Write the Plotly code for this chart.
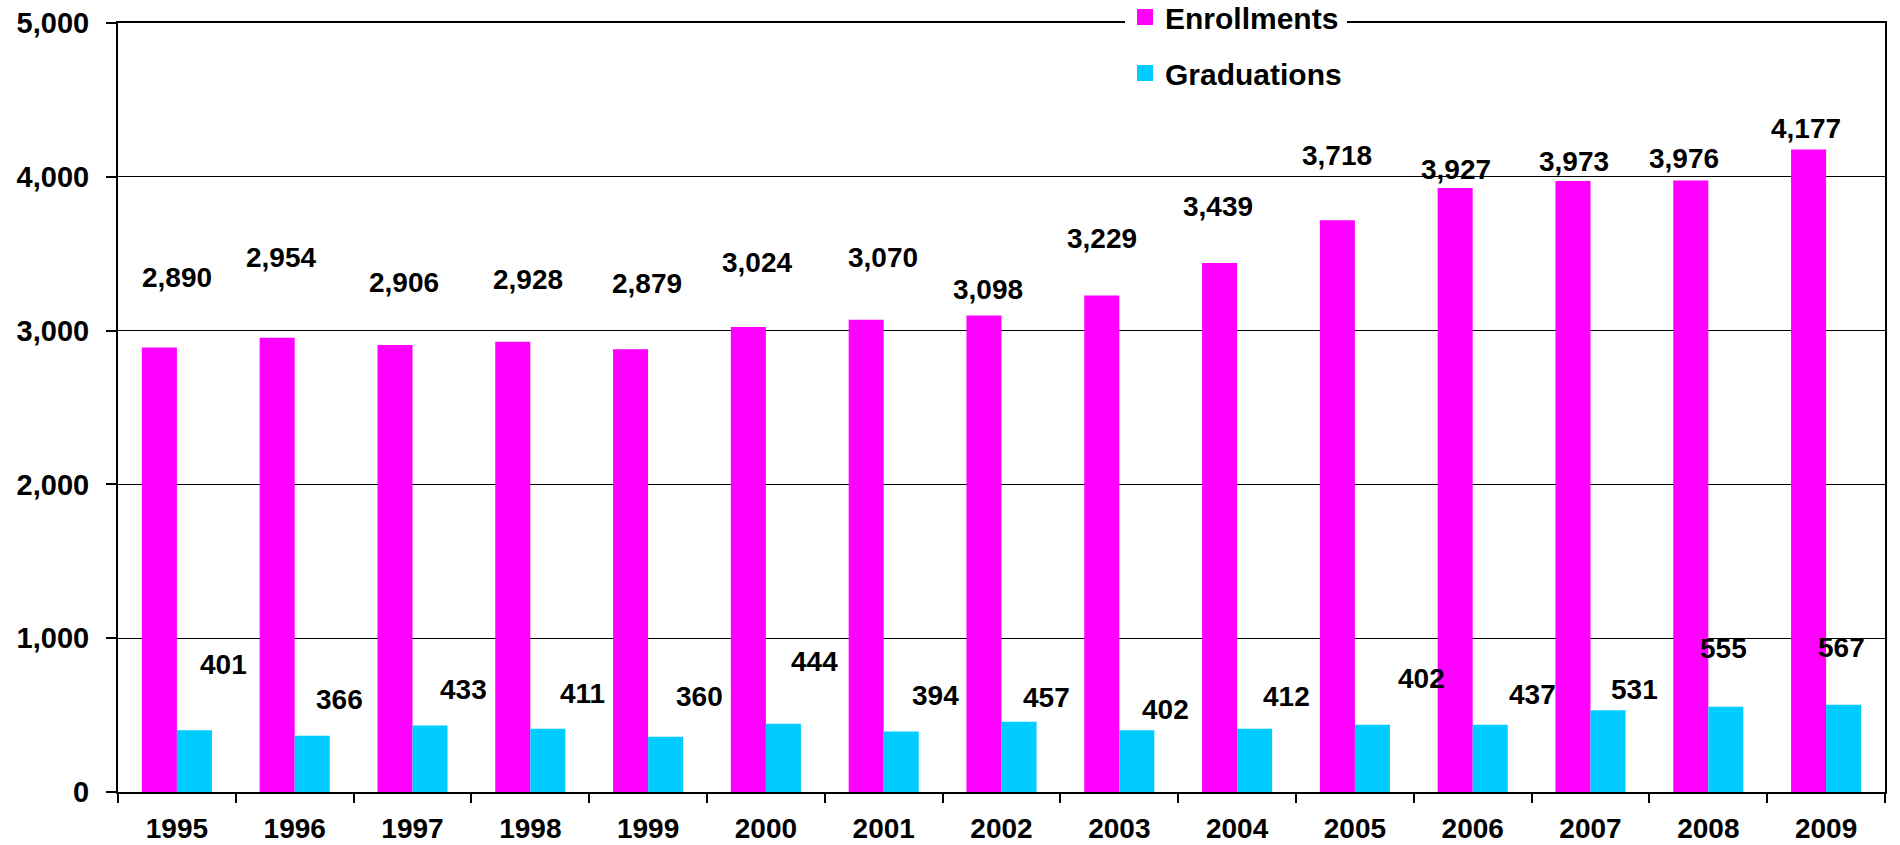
import plotly.graph_objects as go

# ---------------- data ----------------
years = ["1995", "1996", "1997", "1998", "1999", "2000", "2001", "2002",
         "2003", "2004", "2005", "2006", "2007", "2008", "2009"]
enrollments = [2890, 2954, 2906, 2928, 2879, 3024, 3070, 3098,
               3229, 3439, 3718, 3927, 3973, 3976, 4177]
graduations = [401, 366, 433, 411, 360, 444, 394, 457,
               402, 412, 437, 437, 531, 555, 567]
# data-label texts as printed on the chart
enroll_label_values = [2890, 2954, 2906, 2928, 2879, 3024, 3070, 3098,
                       3229, 3439, 3718, 3927, 3973, 3976, 4177]
grad_label_values = [401, 366, 433, 411, 360, 444, 394, 457,
                     402, 412, 402, 437, 531, 555, 567]
y_ticks = [0, 1000, 2000, 3000, 4000, 5000]

# ---------------- label placement (layout only) ----------------
enroll_label_y = [3346, 3476, 3314, 3333, 3306, 3444, 3477, 3265,
                  3602, 3807, 4139, 4046, 4101, 4122, 4312]
enroll_label_dx = [0, -14, -9, -2, -1, -9, -1, -14,
                   -17, -19, -18, -17, -17, -24, -20]
grad_label_y = [828, 601, 666, 642, 620, 847, 629, 613,
                537, 624, 738, 634, 665, 930, 941]
grad_label_dx = [47, 45, 51, 52, 51, 49, 52, 45,
                 46, 49, 67, 60, 44, 15, 15]

MAGENTA = "#FF00FF"
CYAN = "#00CCFF"
FONT = "Liberation Sans, Arial, sans-serif"

fig = go.Figure()
fig.add_trace(go.Bar(x=years, y=enrollments, name="Enrollments",
                     marker=dict(color=MAGENTA, line=dict(width=0)),
                     showlegend=False))
fig.add_trace(go.Bar(x=years, y=graduations, name="Graduations",
                     marker=dict(color=CYAN, line=dict(width=0)),
                     showlegend=False))
# legend entries (square swatches)
fig.add_trace(go.Scatter(x=[years[0]], y=[None], mode="markers", name="Enrollments",
                         legendgroup="a", hoverinfo="skip",
                         marker=dict(symbol="square", size=20, color=MAGENTA)))
fig.add_trace(go.Scatter(x=[years[0]], y=[None], mode="markers", name="Graduations",
                         legendgroup="b", hoverinfo="skip",
                         marker=dict(symbol="square", size=20, color=CYAN)))

annotations = []
for i, yr in enumerate(years):
    annotations.append(dict(x=i, y=enroll_label_y[i], xref="x", yref="y",
                            text=f"{enroll_label_values[i]:,}", showarrow=False,
                            xshift=enroll_label_dx[i],
                            font=dict(family=FONT, size=28, color="black", weight="bold")))
    annotations.append(dict(x=i, y=grad_label_y[i], xref="x", yref="y",
                            text=f"{grad_label_values[i]:,}", showarrow=False,
                            xshift=grad_label_dx[i],
                            font=dict(family=FONT, size=28, color="black", weight="bold")))

fig.update_layout(
    width=1900, height=845,
    margin=dict(l=118, r=15, t=23, b=53, pad=0, autoexpand=False),
    paper_bgcolor="white", plot_bgcolor="white",
    barmode="group", bargap=0.405, bargroupgap=0,
    font=dict(family=FONT, size=28, color="black", weight="bold"),
    showlegend=True,
    legend=dict(xref="container", yref="paper",
                x=1125 / 1900, xanchor="left", y=1.0416, yanchor="top",
                bgcolor="white", borderwidth=0,
                traceorder="grouped", tracegroupgap=14,
                itemsizing="trace",
                font=dict(family=FONT, size=30, color="black", weight="bold")),
    annotations=annotations,
)
fig.update_xaxes(type="category", categoryorder="array", categoryarray=years,
                 range=[-0.5, len(years) - 0.5], showgrid=False, automargin=False,
                 showline=True, linecolor="black", linewidth=2, mirror=True,
                 ticks="outside", tickson="boundaries", ticklen=9,
                 tickwidth=1.5, tickcolor="black", tickangle=0,
                 ticklabelstandoff=10,
                 tickfont=dict(family=FONT, size=28, color="black", weight="bold"))
fig.update_yaxes(range=[0, 5000], tickvals=y_ticks, tickformat=",",
                 showgrid=True, gridcolor="black", gridwidth=1.3, automargin=False,
                 showline=True, linecolor="black", linewidth=2, mirror=True,
                 ticks="outside", ticklen=10, tickwidth=1.5, tickcolor="black",
                 ticklabelstandoff=11, zeroline=False,
                 tickfont=dict(family=FONT, size=29, color="black", weight="bold"))

fig.write_html("out.html", config={"displayModeBar": False},
               post_script="document.body.style.margin='0';")
